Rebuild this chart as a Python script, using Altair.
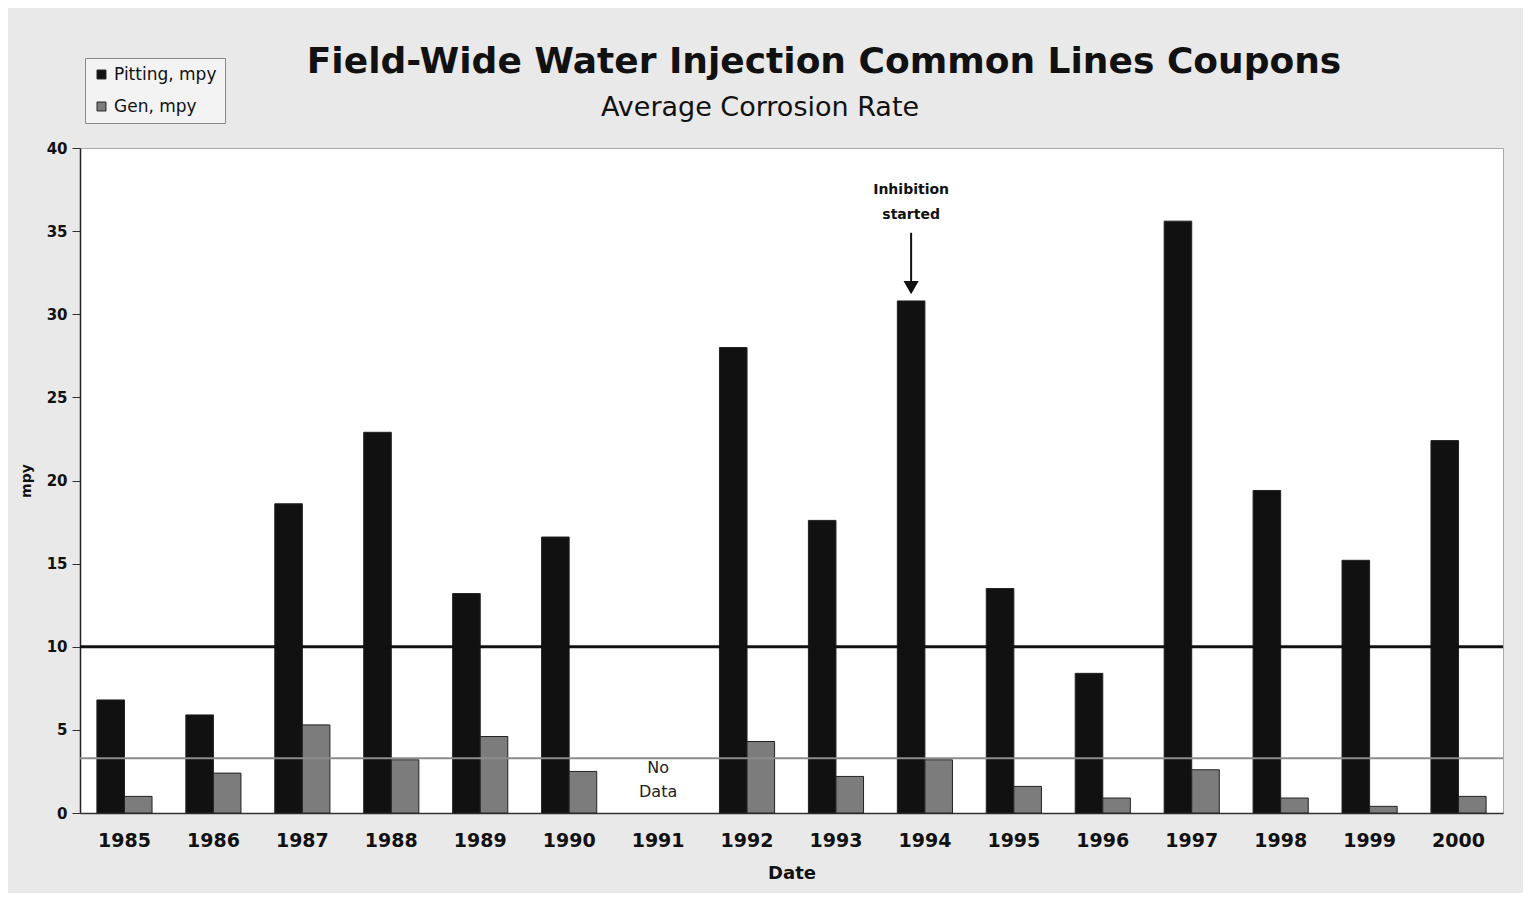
import altair as alt
import pandas as pd

years = ["1985", "1986", "1987", "1988", "1989", "1990", "1991", "1992",
         "1993", "1994", "1995", "1996", "1997", "1998", "1999", "2000"]
pitting = [6.8, 5.9, 18.6, 22.9, 13.2, 16.6, None, 28.0,
           17.6, 30.8, 13.5, 8.4, 35.6, 19.4, 15.2, 22.4]
gen = [1.0, 2.4, 5.3, 3.2, 4.6, 2.5, None, 4.3,
       2.2, 3.2, 1.6, 0.9, 2.6, 0.9, 0.4, 1.0]
series = ["Pitting, mpy", "Gen, mpy"]
colors = ["#111111", "#7c7c7c"]
ref_levels = [10.0, 3.3]
ref_colors = ["#111111", "#8c8c8c"]
ref_widths = [3, 2]

rows = []
for i, y in enumerate(years):
    if pitting[i] is not None:
        rows.append({"Date": y, "Series": series[0], "mpy": pitting[i]})
    if gen[i] is not None:
        rows.append({"Date": y, "Series": series[1], "mpy": gen[i]})
df = pd.DataFrame(rows)

FONT = "DejaVu Sans"

xscale = alt.Scale(domain=years, paddingInner=0.38, paddingOuter=0.19)
yscale = alt.Scale(domain=[0, 40])
xenc = alt.X("Date:N", scale=xscale, sort=years)
xoff = alt.XOffset("Series:N", sort=series, scale=alt.Scale(domain=series))

bars = alt.Chart(df).mark_bar(stroke="#222222", strokeWidth=1).encode(
    x=alt.X("Date:N", scale=xscale, sort=years,
            axis=alt.Axis(title="Date", labelAngle=0, labelFontSize=19, labelFontWeight="bold",
                          labelFont=FONT, labelColor="#111", labelPadding=18, ticks=False,
                          domainColor="#333", domainWidth=1.5,
                          titleFont=FONT, titleFontSize=18, titleFontWeight="bold",
                          titleColor="#111", titlePadding=14)),
    xOffset=xoff,
    y=alt.Y("mpy:Q", scale=yscale,
            axis=alt.Axis(title="mpy", values=[0, 5, 10, 15, 20, 25, 30, 35, 40], grid=False,
                          labelFontSize=15, labelFontWeight="bold", labelFont=FONT,
                          labelColor="#111", tickColor="#333", tickSize=8, labelPadding=5,
                          domainColor="#222", domainWidth=1.5,
                          titleFont=FONT, titleFontSize=14, titleFontWeight="bold",
                          titleColor="#111", titlePadding=13)),
    color=alt.Color("Series:N", sort=series,
                    scale=alt.Scale(domain=series, range=colors),
                    legend=alt.Legend(title=None, orient="none", legendX=5, legendY=-90,
                                      symbolType="square", symbolSize=80,
                                      symbolStrokeColor="#222", symbolStrokeWidth=1,
                                      labelFont=FONT, labelFontSize=17, labelColor="#111",
                                      rowPadding=14, padding=8, labelOffset=4,
                                      strokeColor="#888888", fillColor="#f3f3f3")),
)

ref_df = pd.DataFrame({"level": ref_levels, "color": ref_colors, "w": ref_widths})
rules = alt.Chart(ref_df).mark_rule().encode(
    y=alt.Y("level:Q", scale=yscale),
    color=alt.Color("color:N", scale=None),
    strokeWidth=alt.StrokeWidth("w:Q", scale=None),
)

note_df = pd.DataFrame({"Date": ["1991"], "txt": [["No", "Data"]], "ypos": [2.7]})
no_data = alt.Chart(note_df).mark_text(font=FONT, fontSize=16, color="#222",
                                       lineHeight=24, baseline="middle").encode(
    x=xenc, y=alt.Y("ypos:Q", scale=yscale), text="txt",
)

inh_df = pd.DataFrame({"Date": ["1994"], "Series": [series[0]],
                       "txt": [["Inhibition", "started"]], "ty": [37.5],
                       "a1": [34.9], "a2": [32.0], "head": [31.6]})
inh_text = alt.Chart(inh_df).mark_text(font=FONT, fontSize=14, fontWeight="bold",
                                       color="#111", lineHeight=25, baseline="middle").encode(
    x=xenc, xOffset=xoff, y=alt.Y("ty:Q", scale=yscale), text="txt",
)
inh_line = alt.Chart(inh_df).mark_rule(color="#111", strokeWidth=2).encode(
    x=xenc, xOffset=xoff, y=alt.Y("a1:Q", scale=yscale), y2="a2:Q",
)
inh_head = alt.Chart(inh_df).mark_point(shape="triangle-down", size=230, filled=True,
                                        color="#111", opacity=1).encode(
    x=xenc, xOffset=xoff, y=alt.Y("head:Q", scale=yscale),
)

titles_df = pd.DataFrame({"t": ["Field-Wide Water Injection Common Lines Coupons"]})
title_mark = alt.Chart(titles_df).mark_text(
    font=FONT, fontSize=36, fontWeight="bold", color="#111", align="center", baseline="middle"
).encode(x=alt.value(744), y=alt.value(-86), text="t")

sub_df = pd.DataFrame({"t": ["Average Corrosion Rate"]})
subtitle = alt.Chart(sub_df).mark_text(
    font=FONT, fontSize=27, color="#111", align="center", baseline="middle"
).encode(x=alt.value(680), y=alt.value(-40), text="t")

chart = alt.layer(bars, rules, no_data, inh_line, inh_head, inh_text, title_mark, subtitle).properties(
    width=1423, height=665,
    autosize=alt.AutoSizeParams(type="none"),
    padding={"left": 72, "top": 140, "right": 20, "bottom": 80},
    background="#e9e9e9",
).configure_view(fill="white", stroke="#aaaaaa", strokeWidth=1)

chart.save("out.html", embed_options={"renderer": "svg", "actions": False})
